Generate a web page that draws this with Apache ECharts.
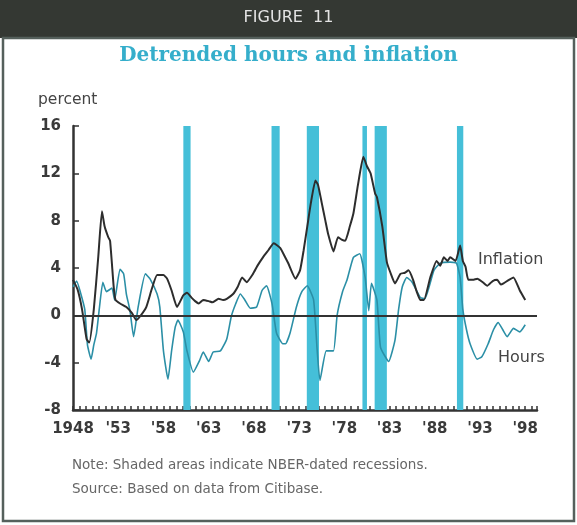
<!DOCTYPE html>
<html>
<head>
<meta charset="utf-8">
<script src="https://cdn.jsdelivr.net/npm/echarts@6/dist/echarts.min.js"></script>
<style>
  html, body { margin: 0; padding: 0; background: #fff; }
  #main { width: 577px; height: 525px; }
</style>
</head>
<body>
<div id="main"></div>
<script>
// detrended inflation, [year, percent]
var inflation = [
  [1948.0, 3.0], [1948.5, 2.2], [1949.0, 0.5], [1949.5, -2.0], [1949.8, -2.3],
  [1950.3, 0.5], [1950.8, 5.0], [1951.2, 8.8], [1951.5, 7.5], [1951.9, 6.6],
  [1952.1, 6.3], [1952.5, 2.4], [1952.7, 1.3], [1953.2, 1.0], [1953.9, 0.7],
  [1954.5, 0.2], [1955.0, -0.4], [1955.4, -0.1], [1956.1, 0.7], [1956.7, 2.2],
  [1957.3, 3.4], [1958.0, 3.4], [1958.4, 3.1], [1958.9, 2.1], [1959.5, 0.7],
  [1960.2, 1.7], [1960.6, 1.9], [1961.1, 1.5], [1961.5, 1.2], [1961.9, 1.0],
  [1962.4, 1.3], [1963.0, 1.2], [1963.4, 1.1], [1964.1, 1.4], [1964.6, 1.3],
  [1965.0, 1.4], [1965.7, 1.8], [1966.2, 2.4], [1966.7, 3.2], [1967.2, 2.8],
  [1967.9, 3.5], [1968.4, 4.2], [1969.0, 4.9], [1969.6, 5.5], [1970.2, 6.1],
  [1970.9, 5.7], [1971.4, 5.0], [1971.8, 4.4], [1972.6, 3.1], [1973.1, 3.8],
  [1973.5, 5.5], [1973.9, 7.5], [1974.3, 9.5], [1974.8, 11.4], [1975.1, 11.0],
  [1975.5, 9.5], [1975.9, 8.0], [1976.2, 6.9], [1976.8, 5.4], [1977.3, 6.6],
  [1977.7, 6.4], [1978.1, 6.3], [1978.6, 7.5], [1979.0, 8.6], [1979.5, 11.0],
  [1980.1, 13.4], [1980.5, 12.6], [1980.9, 12.0], [1981.4, 10.3], [1981.6, 10.0],
  [1982.2, 7.5], [1982.7, 4.5], [1983.1, 3.6], [1983.6, 2.7], [1984.2, 3.5],
  [1984.7, 3.6], [1985.1, 3.8], [1985.6, 3.0], [1986.0, 2.0], [1986.4, 1.3],
  [1986.8, 1.3], [1987.5, 3.2], [1988.2, 4.6], [1988.6, 4.2], [1989.0, 4.9],
  [1989.4, 4.6], [1989.7, 4.9], [1990.3, 4.6], [1990.8, 5.9], [1991.1, 4.6],
  [1991.4, 4.1], [1991.7, 3.0], [1992.2, 3.0], [1992.7, 3.1], [1993.3, 2.8],
  [1993.8, 2.5], [1994.4, 2.9], [1994.9, 3.0], [1995.3, 2.6], [1995.6, 2.7],
  [1996.2, 3.0], [1996.7, 3.2], [1997.4, 2.1], [1998.0, 1.3]
];

// detrended hours, [year, percent]
var hours = [
  [1948.0, 2.4], [1948.4, 2.9], [1948.8, 2.0], [1949.3, 0.5], [1949.6, -2.5],
  [1950.0, -3.7], [1950.3, -2.5], [1950.6, -1.5], [1950.9, 0.5], [1951.3, 2.8],
  [1951.7, 2.0], [1952.3, 2.3], [1952.6, 1.3], [1953.2, 3.9], [1953.6, 3.5],
  [1953.9, 1.8], [1954.3, 0.4], [1954.7, -1.8], [1955.2, 0.7], [1956.0, 3.5],
  [1956.5, 3.1], [1957.3, 1.8], [1957.6, 0.7], [1958.0, -3.0], [1958.5, -5.4],
  [1958.9, -3.0], [1959.3, -1.0], [1959.6, -0.4], [1960.2, -1.4], [1960.6, -3.0],
  [1961.3, -4.8], [1962.0, -3.8], [1962.4, -3.1], [1963.0, -3.9], [1963.5, -3.1],
  [1964.3, -3.0], [1965.0, -2.0], [1965.5, -0.1], [1966.0, 1.0], [1966.5, 1.8],
  [1967.0, 1.3], [1967.6, 0.6], [1968.3, 0.7], [1968.9, 2.1], [1969.4, 2.5],
  [1970.0, 1.0], [1970.5, -1.5], [1971.2, -2.4], [1971.5, -2.4], [1972.0, -1.5],
  [1972.7, 0.7], [1973.3, 2.0], [1973.9, 2.5], [1974.6, 1.3], [1975.0, -3.0],
  [1975.3, -5.5], [1976.0, -3.0], [1976.8, -3.0], [1977.2, 0.0], [1977.8, 2.0],
  [1978.3, 3.0], [1979.0, 4.9], [1979.7, 5.2], [1980.3, 3.2], [1980.7, 0.4],
  [1981.0, 2.7], [1981.6, 1.3], [1982.0, -2.7], [1982.9, -3.9], [1983.6, -2.1],
  [1984.0, 0.5], [1984.4, 2.4], [1984.9, 3.2], [1985.5, 2.8], [1986.4, 1.5],
  [1986.9, 1.4], [1987.9, 3.8], [1988.6, 4.4], [1989.7, 4.5], [1990.4, 4.4],
  [1990.8, 3.2], [1991.1, 0.5], [1991.5, -1.2], [1991.9, -2.4], [1992.7, -3.7],
  [1993.2, -3.5], [1993.9, -2.4], [1994.5, -1.2], [1995.0, -0.6], [1995.5, -1.2],
  [1996.0, -1.8], [1996.7, -1.1], [1997.4, -1.4], [1998.0, -0.8]
];

// NBER recessions shaded on the chart (start, end)
var recessions = [
  [1960.2, 1961.0], [1969.95, 1970.85], [1973.85, 1975.2],
  [1980.0, 1980.5], [1981.35, 1982.7], [1990.45, 1991.15]
];

var yTicks = [-8, -4, 0, 4, 8, 12, 16];

var myChart = echarts.init(document.getElementById('main'));

var recAreas = [];
for (var i = 0; i < recessions.length; i++) {
  recAreas.push([{ xAxis: recessions[i][0] }, { xAxis: recessions[i][1] }]);
}

var font = 'DejaVu Sans';
var dark = '#333333';

var option = {
  animation: false,
  backgroundColor: '#ffffff',
  graphic: [
    { type: 'rect', shape: { x: 0, y: 0, width: 577, height: 38 }, style: { fill: '#343833' }, z: 0 },
    { type: 'rect', shape: { x: 3, y: 38, width: 571, height: 483 },
      style: { fill: 'none', stroke: '#55605c', lineWidth: 2.5 }, z: 0 },
    { type: 'text', left: 'center', top: 10,
      style: { text: 'FIGURE  11', fill: '#e4e4e4', font: '16px "DejaVu Sans"' } },
    { type: 'text', left: 'center', top: 46,
      style: { text: 'Detrended hours and inflation', fill: '#35aecb',
               font: 'bold 20px "DejaVu Serif"' } },
    { type: 'text', left: 38, top: 92,
      style: { text: 'percent', fill: '#444', font: '15.5px "DejaVu Sans"' } },
    { type: 'text', left: 478, top: 252,
      style: { text: 'Inflation', fill: '#444', font: '16px "DejaVu Sans"' } },
    { type: 'text', left: 498, top: 350,
      style: { text: 'Hours', fill: '#444', font: '16px "DejaVu Sans"' } },
    { type: 'text', left: 72, top: 458,
      style: { text: 'Note: Shaded areas indicate NBER-dated recessions.', fill: '#666',
               font: '13.5px "DejaVu Sans"' } },
    { type: 'text', left: 72, top: 482,
      style: { text: 'Source: Based on data from Citibase.', fill: '#666',
               font: '13.5px "DejaVu Sans"' } }
  ],
  grid: { left: 73, top: 126, width: 464, height: 284, containLabel: false },
  xAxis: {
    type: 'value',
    min: 1948,
    max: 1999.3,
    interval: 5,
    axisLine: { onZero: false, lineStyle: { color: dark, width: 2.5 } },
    axisTick: { inside: true, length: 4, lineStyle: { color: dark, width: 1.5 } },
    minorTick: { show: true, splitNumber: 7, length: 4, lineStyle: { color: dark, width: 1.5 } },
    splitLine: { show: false },
    axisLabel: {
      margin: 12, fontSize: 15, fontWeight: 'bold', color: '#3a3a3a', fontFamily: font,
      showMaxLabel: false,
      formatter: function (v) {
        var y = Math.round(v);
        return y === 1948 ? '1948' : "'" + String(y).slice(2);
      }
    }
  },
  yAxis: {
    type: 'value',
    min: yTicks[0],
    max: yTicks[yTicks.length - 1],
    interval: 4,
    axisLine: { show: true, lineStyle: { color: dark, width: 2.5 } },
    axisTick: { show: true, inside: true, length: 6, lineStyle: { color: dark, width: 1.5 } },
    splitLine: { show: false },
    axisLabel: { margin: 12, fontSize: 15, fontWeight: 'bold', color: '#3a3a3a', fontFamily: font }
  },
  series: [
    {
      name: 'Hours',
      type: 'line',
      data: hours,
      showSymbol: false,
      smooth: 0.15,
      lineStyle: { color: '#2b8fa6', width: 1.6 },
      z: 3,
      markArea: {
        silent: true,
        itemStyle: { color: '#45bfd8', opacity: 1 },
        data: recAreas
      },
      markLine: {
        silent: true,
        symbol: 'none',
        label: { show: false },
        lineStyle: { color: dark, width: 1.8, type: 'solid' },
        data: [{ yAxis: 0 }]
      }
    },
    {
      name: 'Inflation',
      type: 'line',
      data: inflation,
      showSymbol: false,
      smooth: 0.15,
      lineStyle: { color: '#2d2d2d', width: 2 },
      z: 4
    }
  ]
};
myChart.setOption(option);
</script>
</body>
</html>
